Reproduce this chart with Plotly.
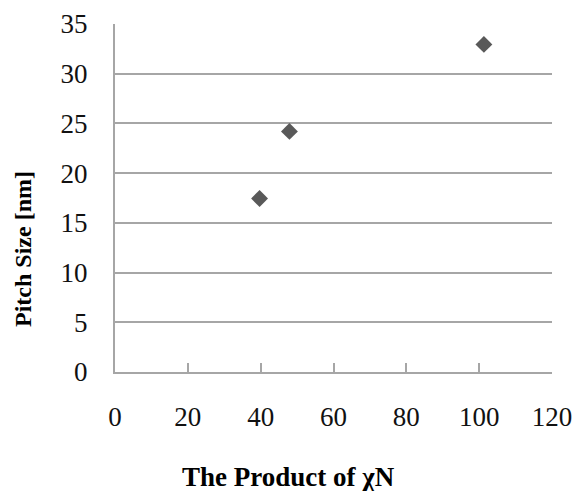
import plotly.graph_objects as go

# Data
chi_n = [39.7, 47.9, 101.3]
pitch_nm = [17.45, 24.2, 32.95]

x_ticks = [0, 20, 40, 60, 80, 100, 120]
y_ticks = [0, 5, 10, 15, 20, 25, 30, 35]

W, H = 576, 491
ML, MR, MT, MB = 115, 24, 24, 119

grey = "#a6a6a6"
serif = "Liberation Serif, Times New Roman, serif"

fig = go.Figure()
fig.add_trace(go.Scatter(
    x=chi_n, y=pitch_nm, mode="markers",
    marker=dict(symbol="diamond", size=13, color="#595959", line=dict(width=0)),
    showlegend=False,
))

fig.update_layout(
    width=W, height=H,
    margin=dict(l=ML, r=MR, t=MT, b=MB, pad=0, autoexpand=False),
    paper_bgcolor="white", plot_bgcolor="white",
    font=dict(family=serif, color="#111111"),
    xaxis=dict(
        range=[0, 120], tickvals=x_ticks, ticktext=[str(v) for v in x_ticks],
        showgrid=False, zeroline=False,
        showline=True, linecolor=grey, linewidth=2,
        ticks="inside", ticklen=9, tickwidth=2, tickcolor=grey,
        tickfont=dict(size=27, family=serif, color="#111111"),
        ticklabelstandoff=20,
    ),
    yaxis=dict(
        range=[0, 35], tickvals=y_ticks, ticktext=[str(v) for v in y_ticks],
        showgrid=True, gridcolor=grey, gridwidth=2,
        zeroline=False,
        showline=True, linecolor=grey, linewidth=2,
        ticks="",
        tickfont=dict(size=27, family=serif, color="#111111"),
        ticklabelstandoff=20,
    ),
    annotations=[
        dict(text="<b>The Product of χN</b>", xref="paper", yref="paper",
             x=(288 - ML) / (W - ML - MR), y=-(477 - (H - MB)) / (H - MT - MB),
             xanchor="center", yanchor="middle", showarrow=False,
             font=dict(size=27, family=serif, color="#000000")),
        dict(text="<b>Pitch Size [nm]</b>", xref="paper", yref="paper",
             x=-(ML - 23) / (W - ML - MR), y=(H - MB - 249) / (H - MT - MB),
             xanchor="center", yanchor="middle", textangle=-90, showarrow=False,
             font=dict(size=24, family=serif, color="#000000")),
    ],
)

fig.write_html(
    "out.html",
    config={"displayModeBar": False},
    post_script="document.body.style.margin='0';document.body.style.overflow='hidden';",
)
